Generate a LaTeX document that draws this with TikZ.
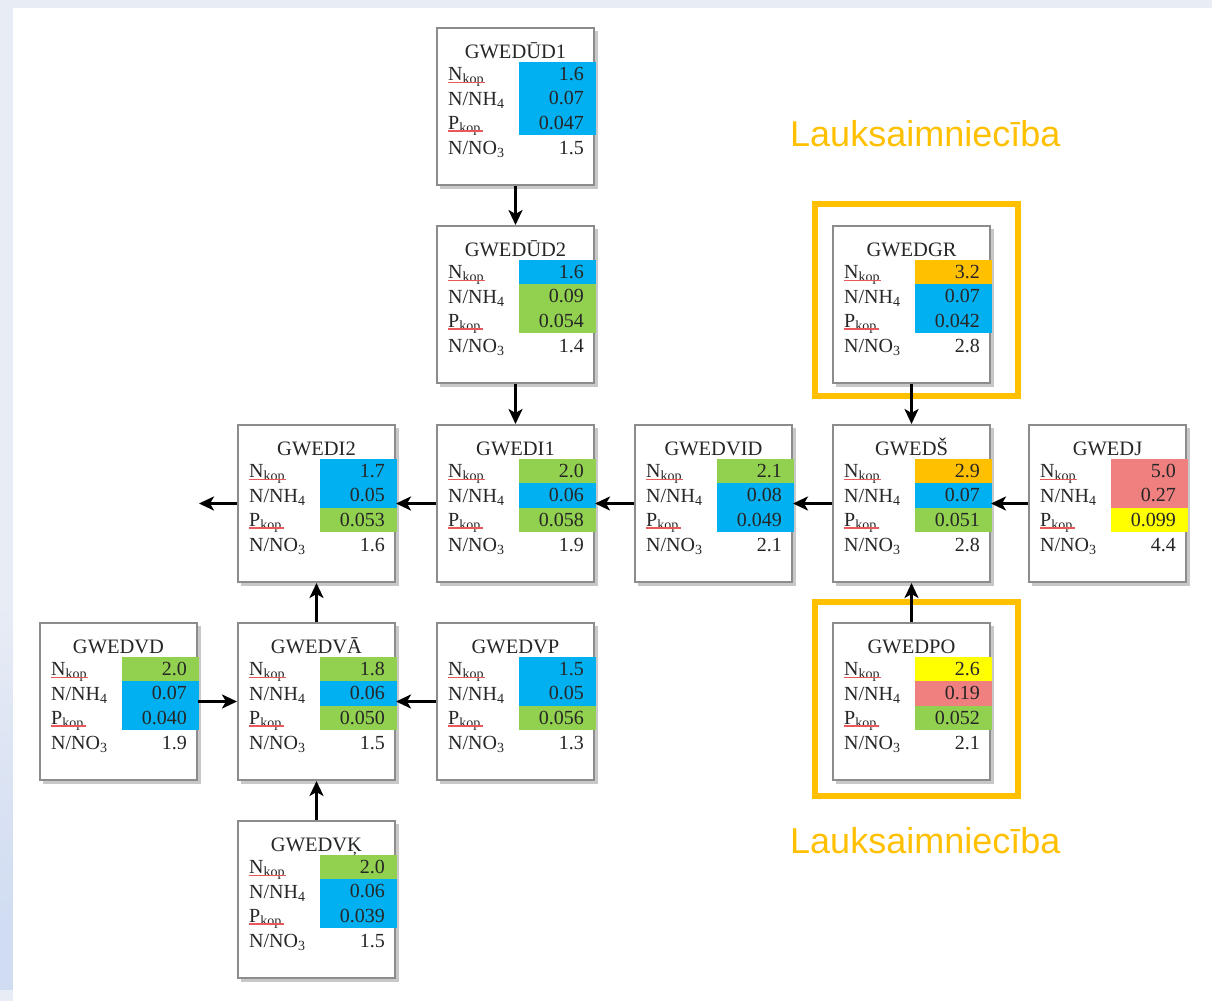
\documentclass[tikz,border=0pt]{standalone}
\usepackage{fontspec}
\setmainfont{Liberation Serif}
\newfontfamily\lsans{Liberation Sans}
\usetikzlibrary{arrows.meta}
\definecolor{cblue}{HTML}{00B0F0}
\definecolor{cgreen}{HTML}{92D050}
\definecolor{corange}{HTML}{FFC000}
\definecolor{cred}{HTML}{F08080}
\definecolor{cyellow}{HTML}{FFFF00}
\definecolor{bordergray}{HTML}{8C8C8C}
\definecolor{shadowgray}{HTML}{C8C8C8}
\definecolor{bgblue}{HTML}{E8ECF5}
\definecolor{bgblue2}{HTML}{D0DCF2}
\definecolor{txt}{HTML}{262626}
\definecolor{spell}{HTML}{E8585A}
\tikzset{
  gbox/.style={draw=bordergray, line width=2pt, fill=white, minimum width=157pt, minimum height=157pt, inner sep=0pt},
  lbl/.style={anchor=base west, inner sep=0pt, text=txt, font=\fontsize{20}{24}\selectfont},
  ttl/.style={anchor=base, inner sep=0pt, text=txt, font=\fontsize{20.5}{24}\selectfont},
  valtxt/.style={anchor=base east, inner sep=0pt, text=txt, font=\fontsize{20}{24}\selectfont},
  arr/.style={line width=3pt, black, -{Stealth[length=15pt,width=14pt,inset=4pt]}},
  frame/.style={draw=corange, line width=6pt},
  agri/.style={anchor=base west, inner sep=0pt, text=corange, font=\lsans\fontsize{36}{40}\selectfont},
  spellline/.style={draw=spell, line width=1.6pt}
}
\newcommand\gwbox[6]{%
\begin{scope}[shift={(#2,#3)}]
  \fill[shadowgray] (3,3) rectangle (161,161);
  \node[gbox] (#1) at (78.5,78.5) {};
  \foreach \c/\v [count=\i] in {#5} {
    \fill[\c] (82,{34+24.33*(\i-1)}) rectangle (159,{34+24.33*\i});
    \node[valtxt] (#1-v\i) at (147,{46+24.33*(\i-1)+6.5}) {\v};
  }
  \node[ttl] (#1-t) at (78.5,30) {#4};
  \node[lbl] (#1-a) at (11,52.5) {N\textsubscript{kop}};
  \node[lbl] (#1-b) at (11,77) {N/NH\textsubscript{4}};
  \node[lbl] (#1-c) at (11,101.3) {P\textsubscript{kop}};
  \node[lbl] (#1-d) at (11,126) {N/NO\textsubscript{3}};
  \node[valtxt] (#1-v4) at (147,126) {#6};
  \draw[spellline] (11,54.5) -- (48,54.5);
  \draw[spellline] (11,103) -- (46,103);
\end{scope}}
\begin{document}
\begin{tikzpicture}[x=1pt,y=-1pt]
\useasboundingbox (0,0) rectangle (1212,1001);
\fill[bgblue] (0,0) rectangle (1212,1001);
\shade[top color=bgblue, bottom color=bgblue2] (0,600) rectangle (13,930);
\fill[bgblue2] (0,930) rectangle (13,990);
\fill[white] (13,8) rectangle (1212,1001);

\gwbox{ud1}{437}{28}{GWEDŪD1}{cblue/1.6,cblue/0.07,cblue/0.047}{1.5}
\gwbox{ud2}{437}{226}{GWEDŪD2}{cblue/1.6,cgreen/0.09,cgreen/0.054}{1.4}
\gwbox{i2}{238}{425}{GWEDI2}{cblue/1.7,cblue/0.05,cgreen/0.053}{1.6}
\gwbox{i1}{437}{425}{GWEDI1}{cgreen/2.0,cblue/0.06,cgreen/0.058}{1.9}
\gwbox{vid}{635}{425}{GWEDVID}{cgreen/2.1,cblue/0.08,cblue/0.049}{2.1}
\gwbox{sh}{833}{425}{GWEDŠ}{corange/2.9,cblue/0.07,cgreen/0.051}{2.8}
\gwbox{j}{1029}{425}{GWEDJ}{cred/5.0,cred/0.27,cyellow/0.099}{4.4}
\gwbox{gr}{833}{226}{GWEDGR}{corange/3.2,cblue/0.07,cblue/0.042}{2.8}
\gwbox{po}{833}{623}{GWEDPO}{cyellow/2.6,cred/0.19,cgreen/0.052}{2.1}
\gwbox{vd}{40}{623}{GWEDVD}{cgreen/2.0,cblue/0.07,cblue/0.040}{1.9}
\gwbox{va}{238}{623}{GWEDVĀ}{cgreen/1.8,cblue/0.06,cgreen/0.050}{1.5}
\gwbox{vp}{437}{623}{GWEDVP}{cblue/1.5,cblue/0.05,cgreen/0.056}{1.3}
\gwbox{vk}{238}{821}{GWEDVĶ}{cgreen/2.0,cblue/0.06,cblue/0.039}{1.5}

\draw[frame] (815,204) rectangle (1018,396);
\draw[frame] (815,602) rectangle (1018,796);

\node[agri] (agri1) at (790,146) {Lauksaimniecība};
\node[agri] (agri2) at (790,853) {Lauksaimniecība};

\coordinate (out) at (199,503.5);
\draw[arr] (ud1.south) -- (ud2.north);
\draw[arr] (ud2.south) -- (i1.north);
\draw[arr] (i1.west) -- (i2.east);
\draw[arr] (i2.west) -- (out);
\draw[arr] (vid.west) -- (i1.east);
\draw[arr] (sh.west) -- (vid.east);
\draw[arr] (j.west) -- (sh.east);
\draw[arr] (gr.south) -- (sh.north);
\draw[arr] (po.north) -- (sh.south);
\draw[arr] (va.north) -- (i2.south);
\draw[arr] (vd.east) -- (va.west);
\draw[arr] (vp.west) -- (va.east);
\draw[arr] (vk.north) -- (va.south);
\end{tikzpicture}
\end{document}
